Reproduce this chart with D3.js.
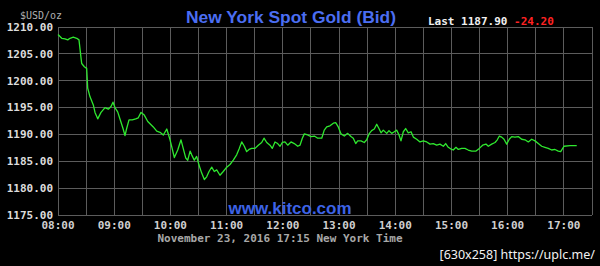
<!DOCTYPE html>
<html><head><meta charset="utf-8">
<script src="https://cdn.jsdelivr.net/npm/d3@7/dist/d3.min.js"></script>
<style>html,body{margin:0;padding:0;background:#000;}svg{display:block;}</style>
</head><body>
<script>
// minutes after 08:00 (New York time), 23 Nov 2016
const minutes = [0,4,7.5,10.4,12.8,16.3,20,22.4,24.6,25.3,28.1,30.6,31.7,34.2,37.7,39.5,42.4,45.9,50.2,53.7,56.6,58.7,60.8,63.7,66.5,69.4,71.5,73.3,75.8,79.3,82.9,85.7,88.6,92.1,95.8,99.3,101.7,105.4,108.9,112.4,116.1,119.6,124.2,127.8,131.3,133.8,136.4,138.5,141.0,142.7,145.5,148.0,150.5,153.4,156.2,158.7,161.2,164.1,166.8,169.4,172.9,176.4,180.1,183.6,187.1,190.7,193.5,196.1,198.9,201.4,203.9,206.8,210.3,213.8,217.4,219.9,222.8,226.3,228.7,231.6,234.5,237.0,239.4,242.3,245.2,248.7,252.2,255.9,258.3,260.8,262.9,266.5,270.1,273.6,277.2,281.5,284.2,286.8,290.3,293.9,296.4,299.2,302.1,305.6,309.2,312.7,315.2,317.8,319.9,323.4,326.9,329.5,332.0,334.8,337.6,340.2,342.6,344.8,347.2,350.9,353.3,356.2,359.0,361.5,364.0,366.1,368.6,371.1,373.9,376.8,379.3,382.9,386.4,389.9,393.6,397.1,400.6,404.2,407.7,411.3,413.8,416.6,420.2,421.9,424.8,427.3,430.9,434.4,437.9,441.6,446.2,449.7,453.3,456.8,459.3,462.9,466.5,468.9,471.1,473.6,476.1,478.9,481.7,484.3,487.8,491.3,494.9,498.5,502.0,505.6,509.2,512.7,516.3,519.8,523.3,527.0,530.5,534.0,536.6,540.1,546.5,553.7];
const bid = [1208.6,1207.9,1207.8,1207.6,1207.9,1208.1,1207.9,1207.6,1204.2,1203.2,1202.6,1202.3,1198.6,1197.0,1195.5,1194.1,1192.9,1194.1,1195.0,1194.7,1195.2,1196.0,1195.0,1194.2,1192.7,1191.1,1189.8,1191.1,1192.7,1192.7,1192.9,1193.1,1194.1,1193.6,1192.4,1191.8,1191.4,1190.6,1190.4,1189.9,1191.0,1189.0,1185.7,1187.1,1189.0,1187.3,1185.6,1185.2,1186.9,1186.2,1185.2,1185.9,1184.3,1182.8,1181.6,1182.1,1183.1,1183.9,1183.1,1183.4,1182.4,1183.1,1183.9,1184.4,1185.2,1186.2,1187.4,1188.6,1187.8,1186.8,1187.2,1187.4,1187.4,1188.0,1188.5,1189.3,1188.5,1188.0,1187.4,1188.6,1188.3,1187.8,1188.5,1188.6,1188.0,1188.6,1188.3,1187.8,1188.0,1189.3,1190.1,1189.9,1189.6,1189.7,1189.3,1189.3,1190.8,1191.4,1191.6,1192.1,1192.2,1191.4,1190.1,1189.7,1190.2,1189.6,1189.3,1188.3,1188.8,1188.8,1188.5,1189.0,1190.1,1190.7,1191.0,1191.9,1191.1,1190.3,1190.8,1190.2,1190.7,1190.2,1190.5,1190.8,1189.9,1188.8,1190.5,1191.1,1190.3,1190.5,1189.5,1189.1,1188.6,1188.8,1188.6,1188.2,1188.3,1188.0,1188.2,1187.8,1188.3,1187.6,1187.2,1187.1,1187.6,1187.2,1187.4,1187.4,1187.1,1186.9,1186.9,1187.4,1188.0,1188.2,1187.8,1188.2,1188.5,1189.0,1189.7,1189.5,1189.1,1188.2,1189.1,1189.6,1189.5,1189.6,1189.1,1189.0,1188.6,1189.1,1188.8,1188.3,1187.8,1187.6,1187.4,1187.1,1187.2,1186.9,1186.8,1187.8,1187.9,1187.9];
const timeTicks = [0,60,120,180,240,300,360,420,480,540];
const timeLabels = ["08:00","09:00","10:00","11:00","12:00","13:00","14:00","15:00","16:00","17:00"];
const priceTicks = [1175,1180,1185,1190,1195,1200,1205,1210];
const title = "New York Spot Gold (Bid)";
const lastPrice = "1187.90";
const change = "-24.20";

const W = 600, H = 266;
const svg = d3.select("body").append("svg").attr("width", W).attr("height", H);
svg.append("rect").attr("width", W).attr("height", H).attr("fill", "#000");

const x = d3.scaleLinear().domain([0, 570]).range([58, 592]);
const y = d3.scaleLinear().domain([1175, 1210]).range([215, 27]);

const grid = svg.append("g").attr("stroke", "#5c5c5c").attr("stroke-width", 1).attr("shape-rendering", "crispEdges");
grid.selectAll("line.v").data(d3.range(0, 571, 30)).join("line")
  .attr("x1", d => x(d)).attr("x2", d => x(d)).attr("y1", y(1210)).attr("y2", y(1175));
grid.selectAll("line.h").data(priceTicks).join("line")
  .attr("x1", x(0)).attr("x2", x(570)).attr("y1", d => y(d)).attr("y2", d => y(d));

const mono = "'DejaVu Sans Mono', 'Liberation Mono', monospace";

svg.append("g").selectAll("text").data(priceTicks).join("text")
  .attr("x", 53).attr("y", d => y(d)).attr("dy", "0.35em")
  .attr("text-anchor", "end").attr("font-family", mono).attr("font-weight", "bold")
  .attr("font-size", 11).attr("fill", "#dcdcdc").text(d => d3.format(".2f")(d));

svg.append("g").selectAll("text").data(timeTicks).join("text")
  .attr("x", d => x(d)).attr("y", 225).attr("dy", "0.35em")
  .attr("text-anchor", "middle").attr("font-family", mono).attr("font-weight", "bold")
  .attr("font-size", 11).attr("fill", "#cfcfcf").text((d, i) => timeLabels[i]);

svg.append("text").attr("x", 280).attr("y", 238).attr("dy", "0.35em")
  .attr("text-anchor", "middle").attr("font-family", mono).attr("font-weight", "bold")
  .attr("font-size", 11).attr("fill", "#a8a8a8").text("November 23, 2016 17:15 New York Time");

svg.append("text").attr("x", 20).attr("y", 15).attr("dy", "0.35em")
  .attr("font-family", mono).attr("font-size", 10).attr("fill", "#b0b0b0").text("$USD/oz");

svg.append("text").attr("x", 291).attr("y", 23)
  .attr("text-anchor", "middle").attr("font-family", "'Liberation Sans', Arial, sans-serif")
  .attr("font-weight", "bold").attr("font-size", 17.4).attr("fill", "#4b6ef2").text(title);

const last = svg.append("text").attr("x", 428).attr("y", 21).attr("dy", "0.35em")
  .attr("font-family", mono).attr("font-weight", "bold").attr("font-size", 11);
last.append("tspan").attr("fill", "#f0f0f0").text("Last " + lastPrice + " ");
last.append("tspan").attr("fill", "#ff2222").text(change);

svg.append("text").attr("x", 290).attr("y", 214)
  .attr("text-anchor", "middle").attr("font-family", "'Liberation Sans', Arial, sans-serif")
  .attr("font-weight", "bold").attr("font-size", 17).attr("fill", "#3d63e6").text("www.kitco.com");

svg.append("path").datum(minutes.map((m, i) => [m, bid[i]]))
  .attr("fill", "none").attr("stroke", "#2fe82f").attr("stroke-width", 1.3)
  .attr("stroke-linejoin", "round")
  .attr("d", d3.line().x(d => x(d[0])).y(d => y(d[1])));

svg.append("text").attr("x", 595).attr("y", 259).attr("text-anchor", "end")
  .attr("font-family", "'Noto Sans', sans-serif").attr("font-size", 12.5).attr("fill", "#f2f2f2")
  .text("[630x258] https://uplc.me/");
</script>
</body></html>
